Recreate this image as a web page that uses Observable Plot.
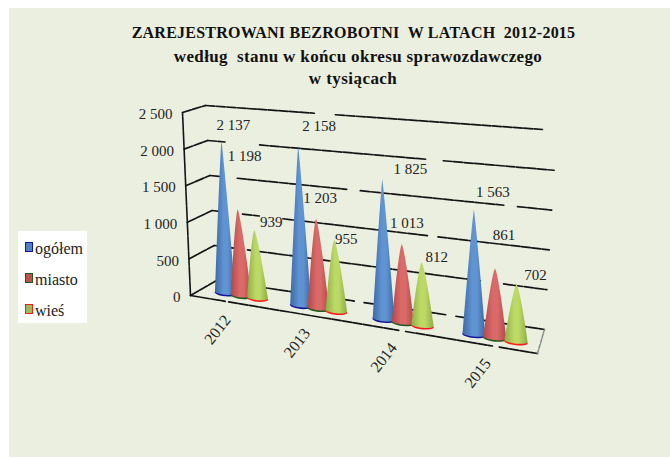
<!DOCTYPE html>
<html><head><meta charset="utf-8">
<script src="https://cdn.jsdelivr.net/npm/d3@7"></script>
<script src="https://cdn.jsdelivr.net/npm/@observablehq/plot@0.6"></script>
<style>
html,body{margin:0;padding:0;background:#fff;}
#page{position:relative;width:670px;height:457px;overflow:hidden;background:#fff;}
#bg{position:absolute;left:9px;top:8px;right:0;bottom:0;background:#ebefdf;}
#chart{position:absolute;left:0;top:0;}
#title{position:absolute;left:0;top:0;width:670px;font-family:"Liberation Serif",serif;font-weight:bold;color:#111;line-height:23px;}
#title div{position:absolute;white-space:pre;transform:translateX(-50%);}
#legend{position:absolute;left:18px;top:231px;width:69px;height:92px;background:#fff;font-family:"Liberation Serif",serif;font-size:16px;color:#222;}
#legend .row{position:absolute;left:7px;height:18px;line-height:18px;white-space:nowrap;}
#legend i{position:absolute;left:0;top:2px;width:6px;height:8px;border:1.5px solid;}
#legend span{position:absolute;left:10px;top:0;}
</style></head><body>
<div id="page"><div id="bg"></div><div id="chart"></div><div id="title"></div><div id="legend"></div></div>
<script>
const years = ["2012","2013","2014","2015"];
const seriesNames = ["ogółem","miasto","wieś"];
const ogolem = [2137,2158,1825,1563];
const miasto = [1198,1203,1013,861];
const wies = [939,955,812,702];
const valueTicks = [0,500,1000,1500,2000,2500];
const titleLines = ["ZAREJESTROWANI BEZROBOTNI  W LATACH  2012-2015","według  stanu w końcu okresu sprawozdawczego","w tysiącach"];

const seriesValues = [ogolem,miasto,wies];
const seriesColors = [
  {id:"gBlue",edge:"#3b69a6",mid:"#5f93d2",rim:"#16169c",swatch:"#4f81bd",bulge:.9},
  {id:"gRed",edge:"#b5474a",mid:"#d96a68",rim:"#1f5a1f",swatch:"#c0504d",bulge:.75},
  {id:"gGreen",edge:"#8fae45",mid:"#bcd865",rim:"#ff1a1a",swatch:"#9bbb59",bulge:.75}
];
const fmt = v => d3.format(",")(v).replace(",", " ");

// Box corners of the 3D chart, expressed in x / y scale units
const box = {
  fl0:[0,0], fr0:[4,-806], bl0:[0.3,208], br0:[4.08,-472],
  fl1:[-0.092,2542], fr1:[3.965,2180], bl1:[0.173,2639], br1:[4.219,2292]
};
const lerp=(a,b,t)=>a+(b-a)*t;
function project(s,d,v){
  const t=v/2500, out=[];
  for(const i of [0,1]){
    const f0=lerp(box.fl0[i],box.fr0[i],s), b0=lerp(box.bl0[i],box.br0[i],s);
    const f1=lerp(box.fl1[i],box.fr1[i],s), b1=lerp(box.bl1[i],box.br1[i],s);
    out.push(lerp(lerp(f0,b0,d),lerp(f1,b1,d),t));
  }
  return {x:out[0],y:out[1]};
}
const warp = c => { const q=c/4; return q*(0.833+0.167*q); };
const coneDepth = s => lerp(0.47,0.35,s);
const pxU = 1/86.75, pxV = 1/0.072;

const wallSpans = {
  2500:[[0,.31],[.37,.96]],
  2000:[[0,.05],[.15,.63],[.68,1]],
  1500:[[0,.04],[.08,.40],[.44,.86],[.90,1]],
  1000:[[0,.04],[.09,.14],[.21,.64],[.67,1]],
  500:[[0,.08],[.10,.80],[.87,1]],
  0:[[0,.42],[.45,.70],[.73,1]]
};
const frontSpans=[[0,.10],[.11,.60],[.62,.87],[.89,1]];

const marks=[];
const ink={stroke:"#141414",strokeWidth:1.7,strokeDasharray:"9 1.5"};
const segLine=(pts,opt)=>Plot.line(pts,{x:"x",y:"y",...opt});

marks.push(()=>{
  const ns="http://www.w3.org/2000/svg";
  const defs=document.createElementNS(ns,"defs");
  for(const c of seriesColors){
    const g=document.createElementNS(ns,"linearGradient");
    g.setAttribute("id",c.id);
    [[0,c.edge],[.42,c.mid],[.62,c.mid],[1,c.edge]].forEach(([o,col])=>{
      const st=document.createElementNS(ns,"stop");
      st.setAttribute("offset",o);st.setAttribute("stop-color",col);g.appendChild(st);
    });
    defs.appendChild(g);
  }
  return defs;
});

for(const v of valueTicks){
  marks.push(segLine([project(0,0,v),project(0,1,v)],ink));
  for(const [a,b] of wallSpans[v]) marks.push(segLine([project(a,1,v),project(b,1,v)],ink));
}
for(const [a,b] of frontSpans) marks.push(segLine([project(a,0,0),project(b,0,0)],ink));
marks.push(segLine([project(1,0,0),project(1,1,0)],{stroke:"#8a8a8a",strokeWidth:1.5,strokeDasharray:"4 1.5"}));
marks.push(segLine([project(0,0,0),project(0,0,2500)],{stroke:"#141414",strokeWidth:1.6,strokeDasharray:"14 1"}));

marks.push(Plot.text(valueTicks,{
  x:v=>project(0,0,v).x, y:v=>project(0,0,v).y, text:fmt,
  textAnchor:"end",dx:-10,dy:2,fontSize:15,fontFamily:"Liberation Serif",fill:"#222"}));
marks.push(Plot.text(years,{
  x:(d,i)=>project(warp(i+.5),0,0).x, y:(d,i)=>project(warp(i+.5),0,0).y,
  text:d=>d,rotate:-52,dx:-10,dy:28,fontSize:16,fontFamily:"Liberation Serif",fill:"#222"}));

const labelNudge=[
  [[12,-17],[7,-54],[17,-9]],
  [[21,-21],[4,-22],[12,-2]],
  [[28,-11],[5,-22],[15,-6]],
  [[19,-19],[9,-34],[19,-10]]
];
const arc=(cx,cy,r,ry,a0,a1,n=14)=>d3.range(n+1).map(k=>{
  const a=lerp(a0,a1,k/n), ex=Math.cos(a)*r, ey=Math.sin(a)*ry;
  return {x:cx+ex*pxU, y:cy-(ey+ex*0.1)*pxV};
});
const labels=[];
years.forEach((yr,yi)=>{
  seriesValues.forEach((vals,si)=>{
    const c=yi+.535+(si-1)*.22, s=warp(c), d=coneDepth(s);
    const base=project(s,d,0), top=project(s,d,vals[yi]);
    const tip={x:base.x+lerp(-4,1,s)*pxU,y:lerp(base.y,top.y,.98)};
    const r=10+1.7*s, ry=2.6;
    const col=seriesColors[si];
    const fs=d3.range(0,1.0001,.05);
    const side=(f,sgn)=>({x:lerp(base.x,tip.x,f)+sgn*r*pxU*Math.pow(1-f,col.bulge),y:lerp(base.y,tip.y,f)});
    const outline=[...fs.map(f=>side(f,1)),...fs.slice().reverse().map(f=>side(f,-1)),...arc(base.x,base.y,r,ry,Math.PI,0)];
    marks.push(segLine(arc(base.x,base.y-1*pxV,r+.3,ry+.6,0,2*Math.PI,24),{fill:col.rim,stroke:"none"}));
    marks.push(segLine(outline,{fill:`url(#${col.id})`,stroke:"none"}));
    labels.push({x:tip.x,y:tip.y,t:fmt(vals[yi]),n:labelNudge[yi][si]});
  });
});
for(const l of labels) marks.push(Plot.text([l],{x:"x",y:"y",text:"t",dx:l.n[0],dy:l.n[1]+1.5,fontSize:15,fontFamily:"Liberation Serif",fill:"#222"}));

const svg=Plot.plot({
  width:670,height:457,margin:0,
  style:{background:"transparent",overflow:"visible"},
  x:{domain:[0,4],range:[190,537],axis:null},
  y:{domain:[0,2500],range:[295,115],axis:null},
  marks
});
document.getElementById("chart").appendChild(svg);

const tEl=document.getElementById("title");
const tStyle=[[353.5,21,16,.24],[358,45,17,.35],[353,67,17,.45]];
titleLines.forEach((t,i)=>{
  const d=document.createElement("div");d.textContent=t;
  const [l,top,fs,ls]=tStyle[i];
  d.style.left=l+"px";d.style.top=top+"px";d.style.fontSize=fs+"px";d.style.letterSpacing=ls+"px";
  tEl.appendChild(d);
});
const lEl=document.getElementById("legend");
seriesNames.forEach((n,i)=>{
  const r=document.createElement("div");r.className="row";r.style.top=(9+i*31)+"px";
  const sw=document.createElement("i");sw.style.background=seriesColors[i].swatch;sw.style.borderColor=seriesColors[i].rim;
  const sp=document.createElement("span");sp.textContent=n;
  r.append(sw,sp);lEl.appendChild(r);
});
</script></body></html>
